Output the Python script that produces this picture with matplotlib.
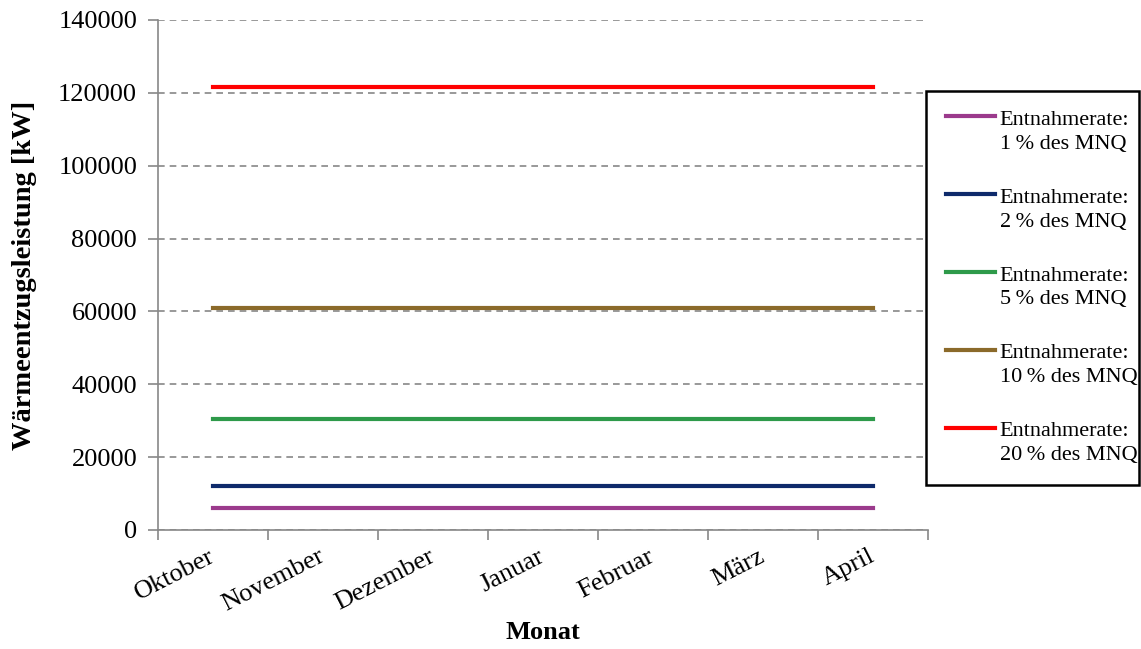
import numpy as np
import matplotlib.pyplot as plt
from matplotlib.ticker import FixedLocator, NullFormatter
from matplotlib.legend_handler import HandlerLine2D

plt.rcParams['font.family'] = ['Liberation Serif', 'DejaVu Serif']

months = ["Oktober", "November", "Dezember", "Januar", "Februar", "März", "April"]
rates = ["1", "2", "5", "10", "20"]
# Wärmeentzugsleistung je Entnahmerate (konstant über alle Monate)
leistung_1 = [6100] * 7
leistung_2 = [12100] * 7
leistung_5 = [30400] * 7
leistung_10 = [60900] * 7
leistung_20 = [121500] * 7
series = [leistung_1, leistung_2, leistung_5, leistung_10, leistung_20]
colors = ["#9b3a8c", "#0e2a6b", "#2e9a4a", "#8b6a2a", "#ff0000"]


class TopLine(HandlerLine2D):
    # legend line next to the first text line, like Excel does it
    def create_artists(self, legend, orig_handle, xdescent, ydescent,
                       width, height, fontsize, trans):
        return super().create_artists(legend, orig_handle, xdescent, ydescent - 22,
                                      width, height, fontsize, trans)


fig = plt.figure(figsize=(11.41, 6.49), dpi=100)
ax = fig.add_axes([158/1141, 1 - 530/649, 770/1141, 510/649])

x = np.arange(len(months))
for vals, rate, col in zip(series, rates, colors):
    ax.plot(x, vals, color=col, lw=3,
            label="Entnahmerate:\n%s\u2009%% des MNQ" % rate)

ax.set_xlim(-0.5, len(months) - 0.5)
ax.set_ylim(0, 140000)
ax.set_yticks(np.arange(0, 140001, 20000))
ax.yaxis.grid(True, linestyle=(0, (4, 3)), color="#888888", lw=1.2)
ax.set_axisbelow(True)

# ticks at category boundaries, labels at centers
ax.xaxis.set_major_locator(FixedLocator(np.arange(-0.5, len(months), 1)))
ax.xaxis.set_major_formatter(NullFormatter())
ax.xaxis.set_minor_locator(FixedLocator(x))
ax.set_xticklabels(months, minor=True, rotation=27, ha="right", va="center",
                   rotation_mode="anchor", fontsize=19)
ax.tick_params(axis="x", which="minor", length=0, pad=18)
ax.tick_params(axis="x", which="major", length=7, width=1.2, color="#888888")
ax.tick_params(axis="y", length=7, width=1.2, color="#888888", labelsize=19, pad=8)

for s in ["top", "right"]:
    ax.spines[s].set_visible(False)
for s in ["left", "bottom"]:
    ax.spines[s].set_color("#888888")
    ax.spines[s].set_linewidth(1.2)

ax.set_xlabel("Monat", fontsize=19, fontweight="bold", labelpad=4)
ax.set_ylabel("Wärmeentzugsleistung [kW]", fontsize=20.5, fontweight="bold", labelpad=15)

leg = ax.legend(loc="upper left", bbox_to_anchor=(926/1141, 1 - 485/649, 213/1141, 394/649),
                bbox_transform=fig.transFigure, mode="expand", frameon=True, framealpha=1,
                fancybox=False, edgecolor="black", fontsize=16, handlelength=2.2,
                handletextpad=0.22, labelspacing=1.57, borderaxespad=0, borderpad=0.9,
                handler_map={plt.Line2D: TopLine()})
for t in leg.get_texts():
    t.set_linespacing(1.35)
leg.get_frame().set_linewidth(1.8)

fig.savefig("out.png", dpi=100)
